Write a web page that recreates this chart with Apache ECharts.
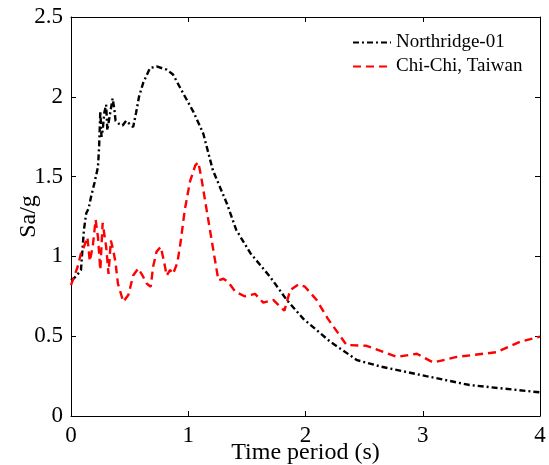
<!DOCTYPE html>
<html>
<head>
<meta charset="utf-8">
<script src="https://cdn.jsdelivr.net/npm/echarts@6/dist/echarts.min.js"></script>
<style>html,body{margin:0;padding:0;background:#fff}#c{width:549px;height:465px}</style>
</head>
<body>
<div id="c"></div>
<script>
const xTicks = [0, 1, 2, 3, 4];
const yTicks = [0, 0.5, 1, 1.5, 2, 2.5];
const northridgeT = [0.0,0.02,0.05,0.085,0.11,0.13,0.15,0.17,0.2,0.23,0.24,0.25,0.26,0.27,0.284,0.3,0.31,0.33,0.355,0.37,0.38,0.41,0.44,0.47,0.5,0.53,0.555,0.58,0.617,0.674,0.73,0.816,0.87,0.958,1.043,1.128,1.21,1.33,1.41,1.53,1.70,1.84,1.98,2.21,2.44,2.64,3.03,3.40,4.0];
const northridgeV = [0.85,0.86,0.88,0.915,1.165,1.27,1.30,1.37,1.46,1.56,1.69,1.91,1.75,1.79,1.90,1.95,1.79,1.88,1.99,1.92,1.85,1.83,1.82,1.85,1.83,1.81,1.90,2.0,2.09,2.18,2.19,2.17,2.14,2.02,1.907,1.77,1.54,1.33,1.165,1.02,0.87,0.727,0.61,0.466,0.35,0.31,0.25,0.194,0.148];
const chichiT = [0.0,0.015,0.057,0.085,0.11,0.14,0.16,0.185,0.21,0.23,0.25,0.27,0.285,0.30,0.32,0.34,0.36,0.38,0.40,0.446,0.49,0.53,0.574,0.61,0.645,0.68,0.70,0.73,0.765,0.79,0.816,0.845,0.87,0.907,0.935,0.97,1.015,1.06,1.086,1.11,1.157,1.20,1.257,1.30,1.34,1.40,1.48,1.57,1.64,1.725,1.82,1.87,1.94,1.995,2.095,2.19,2.35,2.52,2.78,2.95,3.09,3.29,3.63,3.83,4.0];
const chichiV = [0.82,0.83,0.935,1.02,1.06,1.12,0.97,1.06,1.23,1.12,0.915,1.21,1.22,1.06,0.89,1.10,1.04,0.96,0.83,0.716,0.76,0.88,0.925,0.88,0.83,0.81,0.935,1.03,1.06,0.98,0.88,0.915,0.89,0.96,1.09,1.29,1.47,1.57,1.59,1.50,1.29,1.10,0.85,0.86,0.84,0.78,0.75,0.765,0.71,0.727,0.66,0.79,0.825,0.81,0.727,0.61,0.445,0.44,0.37,0.39,0.335,0.37,0.40,0.465,0.497];

const font = '"Liberation Serif", "Times New Roman", serif';
const pairs = (t, v) => t.map((x, i) => [x, v[i]]);
const chart = echarts.init(document.getElementById('c'), null, {renderer: 'canvas'});
const axisCommon = {
  axisLine: {show: true, onZero: false, lineStyle: {color: '#000', width: 1}},
  axisTick: {show: true, inside: true, length: 5, lineStyle: {color: '#000'}},
  splitLine: {show: false}
};
chart.setOption({
  animation: false,
  grid: {left: 71, right: 9, top: 17, bottom: 49, containLabel: false, outerBoundsMode: 'none'},
  legend: {
    data: ['Northridge-01', 'Chi-Chi, Taiwan'],
    orient: 'vertical',
    left: 347, top: 28,
    itemWidth: 38, itemHeight: 10, itemGap: 5,
    itemStyle: {opacity: 0},
    textStyle: {fontFamily: font, fontSize: 19, color: '#000'}
  },
  xAxis: [
    Object.assign({type: 'value', min: 0, max: 4, interval: 1, position: 'bottom',
      name: 'Time period (s)', nameLocation: 'middle', nameGap: 25, nameMoveOverlap: false,
      nameTextStyle: {fontFamily: font, fontSize: 24, color: '#000'},
      axisLabel: {fontFamily: font, fontSize: 23, color: '#000', margin: 8}}, axisCommon),
    Object.assign({type: 'value', min: 0, max: 4, interval: 1, position: 'top',
      axisLabel: {show: false}}, axisCommon)
  ],
  yAxis: [
    Object.assign({type: 'value', min: 0, max: 2.5, interval: 0.5, position: 'left',
      name: 'Sa/g', nameLocation: 'middle', nameGap: 30, nameMoveOverlap: false,
      nameTextStyle: {fontFamily: font, fontSize: 24, color: '#000'},
      axisLabel: {fontFamily: font, fontSize: 23, color: '#000', margin: 8}}, axisCommon),
    Object.assign({type: 'value', min: 0, max: 2.5, interval: 0.5, position: 'right',
      axisLabel: {show: false}}, axisCommon)
  ],
  series: [
    {name: 'Northridge-01', type: 'line', data: pairs(northridgeT, northridgeV),
      showSymbol: false, symbol: 'none', smooth: false,
      lineStyle: {color: '#000', width: 2.4, type: [6, 3, 2, 3]},
      itemStyle: {color: '#000'}},
    {name: 'Chi-Chi, Taiwan', type: 'line', data: pairs(chichiT, chichiV),
      showSymbol: false, symbol: 'none', smooth: false,
      lineStyle: {color: '#ff0000', width: 2.4, type: [8, 5]},
      itemStyle: {color: '#ff0000'}}
  ]
});
</script>
</body>
</html>
